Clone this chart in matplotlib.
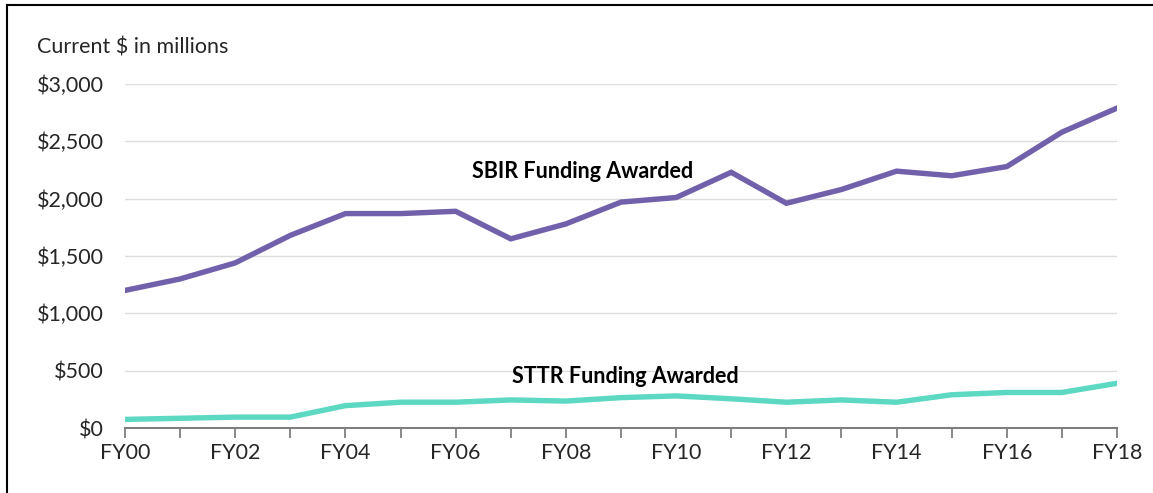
import matplotlib
matplotlib.use("Agg")
import matplotlib.pyplot as plt
from matplotlib.lines import Line2D
from matplotlib.ticker import FuncFormatter, MultipleLocator

years = list(range(0, 19))
year_labels = ["FY%02d" % y if y % 2 == 0 else "" for y in years]
sbir = [1200, 1300, 1440, 1680, 1870, 1870, 1890, 1650, 1780, 1970,
        2010, 2230, 1960, 2080, 2240, 2200, 2280, 2580, 2790]
sttr = [75, 85, 95, 95, 195, 225, 225, 245, 235, 265,
        280, 255, 225, 245, 225, 290, 310, 310, 390]

plt.rcParams['font.family'] = ['Lato', 'DejaVu Sans']

fig = plt.figure(figsize=(11.53, 4.93), dpi=100)
ax = fig.add_axes([0.1084, 0.1318, 0.9688 - 0.1084, 0.8296 - 0.1318])

ax.plot(years, sbir, color="#7161ab", lw=3.9, solid_joinstyle="miter", zorder=3)
ax.plot(years, sttr, color="#5dd8c3", lw=3.9, solid_joinstyle="miter", zorder=3)

ax.set_xlim(0, 18)
ax.set_ylim(0, 3000)
ax.yaxis.set_major_locator(MultipleLocator(500))
ax.yaxis.set_major_formatter(FuncFormatter(lambda v, p: "${:,.0f}".format(v)))
ax.set_xticks(years)
ax.set_xticklabels(year_labels)

ax.grid(axis="y", color="#dcdcdc", lw=1.0, zorder=0)
ax.set_axisbelow(True)
for s in ["left", "right", "top"]:
    ax.spines[s].set_visible(False)
ax.spines["bottom"].set_color("#7f7f7f")
ax.spines["bottom"].set_linewidth(1.5)
ax.tick_params(axis="y", length=0, pad=15, labelsize=15.5, labelcolor="#262626")
ax.tick_params(axis="x", length=7, width=1.3, color="#7f7f7f", pad=4,
               labelsize=15.5, labelcolor="#262626")

ax.text(8.31, 2240, "SBIR Funding Awarded", ha="center", va="center",
        fontsize=15.5, fontweight="bold", color="#000000")
ax.text(9.07, 453, "STTR Funding Awarded", ha="center", va="center",
        fontsize=15.5, fontweight="bold", color="#000000")

fig.text(37 / 1153, 1 - 47 / 493, "Current $ in millions", ha="left", va="center",
         fontsize=15.5, color="#262626")

# partial frame (left and top edges)
fig.add_artist(Line2D([7 / 1153, 7 / 1153], [0, 1 - 5 / 493], transform=fig.transFigure,
                      color="black", lw=1.5))
fig.add_artist(Line2D([7 / 1153, 1], [1 - 5 / 493, 1 - 5 / 493], transform=fig.transFigure,
                      color="black", lw=1.5))

fig.savefig("out.png", dpi=100)
